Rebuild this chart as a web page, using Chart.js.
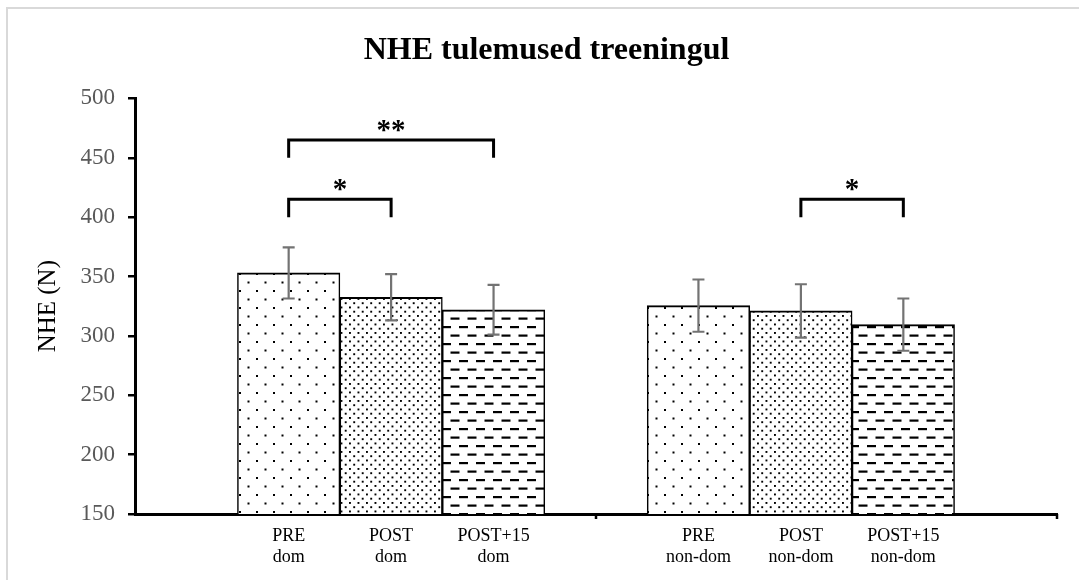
<!DOCTYPE html>
<html>
<head>
<meta charset="utf-8">
<script src="https://cdn.jsdelivr.net/npm/chart.js@4/dist/chart.umd.min.js"></script>
<style>
  html, body { margin: 0; padding: 0; background: #fff; overflow: hidden; }
  #wrap { position: relative; width: 1079px; height: 580px; }
  #frame {
    position: absolute; left: 6px; top: 7px; width: 1200px; height: 700px;
    border-left: 2px solid #d9d9d9; border-top: 2px solid #d9d9d9; pointer-events: none;
  }
</style>
</head>
<body>
<div id="wrap">
  <canvas id="chart" width="1079" height="580"></canvas>
  <div id="frame"></div>
</div>
<script>
// ---- data ----
const phases = ["PRE", "POST", "POST+15", "PRE", "POST", "POST+15"];
const legs = ["dom", "dom", "dom", "non-dom", "non-dom", "non-dom"];
const nheMeans = [353, 332.5, 322, 325.5, 321, 309.5];
const nheErrors = [21.5, 19.5, 21, 22, 22.5, 22];
const yTicks = { min: 150, max: 500, step: 50 };

// significance brackets (bar indices into the arrays above)
const bracketFrom = [0, 0, 4];
const bracketTo = [2, 1, 5];
const bracketTop = [465, 415, 415];
const bracketLeg = [450, 400, 400];
const bracketText = ["**", "*", "*"];

// ---- patterns ----
function makePattern(kind) {
  const c = document.createElement("canvas");
  c.width = 17; c.height = 17;
  const g = c.getContext("2d");
  g.fillStyle = "#fff";
  g.fillRect(0, 0, 17, 17);
  g.fillStyle = "#000";
  if (kind === "sparse") {
    [[1, 1], [9.5, 9.5]].forEach(([x, y]) => g.fillRect(x, y, 2, 2));
  } else if (kind === "dense") {
    const rows = [0, 4.25, 8.5, 12.75];
    rows.forEach((y, r) => {
      const off = r % 2 ? 4.25 : 0;
      [off, off + 8.5].forEach((x) => g.fillRect(x + 0.5, y + 0.5, 1.9, 1.9));
    });
  } else {
    g.fillRect(0, 3, 9, 2.2);
    g.fillRect(8.5, 11.5, 9, 2.2);
    g.fillRect(-8.5, 11.5, 9, 2.2);
  }
  return document.getElementById("chart").getContext("2d").createPattern(c, "repeat");
}
const fills = [makePattern("sparse"), makePattern("dense"), makePattern("dash")];

// 9 slots: blank, 3 dom bars, blank, 3 non-dom bars, blank
const slotOf = (i) => i + 1 + (i >= 3 ? 1 : 0);
const slotLabels = new Array(9).fill("");
const slotData = new Array(9).fill(null);
const slotFill = new Array(9).fill("#fff");
phases.forEach((p, i) => {
  slotLabels[slotOf(i)] = [p, legs[i]];
  slotData[slotOf(i)] = nheMeans[i];
  slotFill[slotOf(i)] = fills[i % 3];
});

// ---- plugins ----
const decorations = {
  id: "decorations",
  afterDatasetsDraw(chart) {
    const { ctx, chartArea } = chart;
    const xs = chart.scales.x, ys = chart.scales.y;
    ctx.save();
    // error bars
    ctx.strokeStyle = "#737373";
    ctx.lineWidth = 2.2;
    nheMeans.forEach((m, i) => {
      const x = xs.getPixelForValue(slotOf(i));
      const yt = ys.getPixelForValue(m + nheErrors[i]);
      const yb = ys.getPixelForValue(m - nheErrors[i]);
      ctx.beginPath();
      ctx.moveTo(x, yt); ctx.lineTo(x, yb);
      ctx.moveTo(x - 6, yt); ctx.lineTo(x + 6, yt);
      ctx.moveTo(x - 6, yb); ctx.lineTo(x + 6, yb);
      ctx.stroke();
    });
    // x axis tick marks (group divider and end)
    ctx.strokeStyle = "#000";
    ctx.lineWidth = 2.5;
    [xs.getPixelForValue(4), chartArea.right].forEach((x) => {
      ctx.beginPath();
      ctx.moveTo(x, chartArea.bottom); ctx.lineTo(x, chartArea.bottom + 5);
      ctx.stroke();
    });
    // significance brackets
    ctx.lineWidth = 3;
    ctx.fillStyle = "#000";
    ctx.font = 'bold 29px "Liberation Serif", "Times New Roman", serif';
    ctx.textAlign = "center";
    ctx.textBaseline = "alphabetic";
    bracketText.forEach((t, k) => {
      const x1 = xs.getPixelForValue(slotOf(bracketFrom[k]));
      const x2 = xs.getPixelForValue(slotOf(bracketTo[k]));
      const yT = ys.getPixelForValue(bracketTop[k]);
      const yL = ys.getPixelForValue(bracketLeg[k]);
      ctx.beginPath();
      ctx.moveTo(x1, yL); ctx.lineTo(x1, yT); ctx.lineTo(x2, yT); ctx.lineTo(x2, yL);
      ctx.stroke();
      ctx.fillText(t, (x1 + x2) / 2, yT - 1);
    });
    ctx.restore();
  },
};

Chart.defaults.font.family = '"Liberation Serif", "Times New Roman", serif';
Chart.defaults.color = "#000";

new Chart(document.getElementById("chart"), {
  type: "bar",
  data: {
    labels: slotLabels,
    datasets: [{
      data: slotData,
      backgroundColor: slotFill,
      borderColor: "#000",
      borderWidth: { top: 2, left: 1.5, right: 1.5, bottom: 0 },
      borderSkipped: false,
      barPercentage: 1,
      categoryPercentage: 1,
    }],
  },
  options: {
    responsive: false,
    animation: false,
    layout: { padding: { left: 36, right: 22, top: 0, bottom: 0 } },
    plugins: {
      legend: { display: false },
      tooltip: { enabled: false },
      title: {
        display: true,
        text: "NHE tulemused treeningul",
        font: { size: 32, weight: "bold" },
        color: "#000",
        padding: { top: 32, bottom: 28 },
      },
    },
    scales: {
      x: {
        grid: { display: false, drawTicks: false },
        border: { display: true, color: "#000", width: 3 },
        ticks: { color: "#000", font: { size: 18 }, padding: 11, maxRotation: 0, autoSkip: false },
        afterFit: (s) => { s.height = 66; },
      },
      y: {
        min: yTicks.min,
        max: yTicks.max,
        ticks: { stepSize: yTicks.step, color: "#595959", font: { size: 23 }, padding: 13 },
        grid: { drawOnChartArea: false, drawTicks: true, tickLength: 7, color: "#000", lineWidth: 2.5 },
        border: { display: true, color: "#000", width: 3 },
        title: { display: true, text: "NHE (N)", color: "#000", font: { size: 25 }, padding: { top: -3, bottom: 0 } },
        afterFit: (s) => { s.width = 99; },
      },
    },
  },
  plugins: [decorations],
});
</script>
</body>
</html>
